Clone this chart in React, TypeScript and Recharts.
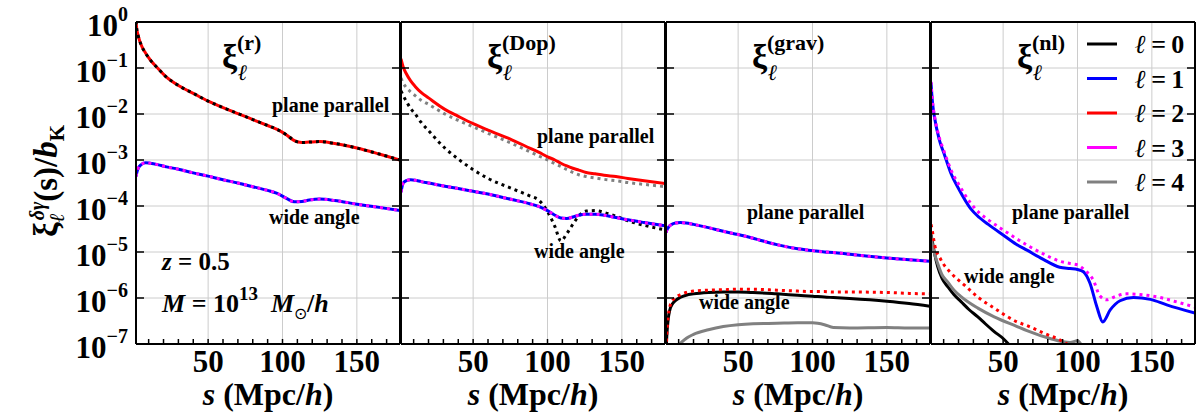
import React from 'react';
import { LineChart, Line, XAxis, YAxis, ReferenceLine } from 'recharts';

const FONT = '"Liberation Serif", "Times New Roman", serif';
const BLACK = '#000000';
const BLUE = '#0000ff';
const RED = '#ff0000';
const MAGENTA = '#ff00ff';
const GRAY = '#808080';

// axes
const X_DOMAIN = [1.5, 179];
const Y_DOMAIN = [1e-7, 1];
const xMinor = [10, 20, 30, 40, 50, 60, 70, 80, 90, 100, 110, 120, 130, 140, 150, 160, 170];
const xMajor = [50, 100, 150];
const yDecades = [1e-7, 1e-6, 1e-5, 1e-4, 1e-3, 1e-2, 1e-1, 1];
const yGrid = [1e-6, 1e-5, 1e-4, 1e-3, 1e-2, 1e-1];
const panelTitles = ['r', 'Dop', 'grav', 'nl'];
const legendEll = ['0', '1', '2', '3', '4'];
const legendColors = [BLACK, BLUE, RED, MAGENTA, GRAY];

// all series values are log10(xi / b_K)
// panel 1: xi^(r)
const rS = [1.5, 2, 3, 5, 8, 11, 16, 22, 30, 40, 50, 60, 70, 80, 90, 96, 103, 108, 113, 118, 125, 135, 150, 165, 179];
const rEll2 = [0.02, -0.15, -0.3, -0.5, -0.68, -0.82, -1.0, -1.2, -1.38, -1.55, -1.72, -1.86, -1.99, -2.12, -2.25, -2.33, -2.46, -2.58, -2.62, -2.61, -2.6, -2.64, -2.74, -2.87, -3.0];
const rEll0 = [0.02, -0.15, -0.3, -0.5, -0.68, -0.82, -1.0, -1.2, -1.38, -1.55, -1.72, -1.86, -1.99, -2.12, -2.25, -2.33, -2.46, -2.58, -2.62, -2.61, -2.6, -2.64, -2.74, -2.87, -3.0];
const rEll1 = [-3.36, -3.28, -3.18, -3.1, -3.06, -3.07, -3.1, -3.15, -3.2, -3.28, -3.35, -3.43, -3.5, -3.58, -3.66, -3.72, -3.84, -3.91, -3.9, -3.87, -3.85, -3.88, -3.96, -4.03, -4.1];
const rEll3 = [-3.36, -3.28, -3.18, -3.1, -3.06, -3.07, -3.1, -3.15, -3.2, -3.28, -3.35, -3.43, -3.5, -3.58, -3.66, -3.72, -3.84, -3.91, -3.9, -3.87, -3.85, -3.88, -3.96, -4.03, -4.1];

// panel 2: xi^(Dop)
const dopS = [1.5, 3, 5, 8, 11, 15, 20, 31, 40, 50, 60, 76, 88, 94, 100, 105, 109, 113, 117, 121, 126, 132, 138, 146, 154, 165, 179];
const dopEll2 = [-0.8, -0.98, -1.12, -1.28, -1.4, -1.53, -1.65, -1.9, -2.05, -2.21, -2.35, -2.56, -2.74, -2.83, -2.93, -3.0, -3.07, -3.13, -3.18, -3.22, -3.27, -3.3, -3.33, -3.36, -3.4, -3.45, -3.51];
const dopEll4 = [-1.22, -1.33, -1.42, -1.52, -1.6, -1.7, -1.79, -2.0, -2.14, -2.28, -2.42, -2.64, -2.82, -2.91, -3.0, -3.08, -3.14, -3.21, -3.27, -3.32, -3.36, -3.39, -3.42, -3.45, -3.49, -3.53, -3.58];
const dopEll0 = [-1.5, -1.6, -1.72, -1.88, -2.0, -2.18, -2.36, -2.74, -2.98, -3.21, -3.4, -3.62, -3.78, -3.87, -4.12, -4.45, -4.76, -4.6, -4.4, -4.22, -4.11, -4.1, -4.14, -4.22, -4.32, -4.42, -4.52];
const dopEll1 = [-3.7, -3.5, -3.45, -3.43, -3.44, -3.47, -3.5, -3.57, -3.62, -3.68, -3.74, -3.86, -3.95, -4.01, -4.1, -4.2, -4.26, -4.27, -4.24, -4.2, -4.18, -4.18, -4.2, -4.25, -4.3, -4.36, -4.43];
const dopEll3 = [-3.7, -3.5, -3.45, -3.43, -3.44, -3.47, -3.5, -3.57, -3.62, -3.68, -3.74, -3.86, -3.95, -4.01, -4.1, -4.2, -4.26, -4.27, -4.24, -4.2, -4.18, -4.18, -4.2, -4.25, -4.3, -4.36, -4.43];

// panel 3: xi^(grav)
const gravS = [1.5, 2, 3, 4, 6, 8, 11, 15, 20, 30, 40, 50, 60, 76, 90, 100, 108, 114, 125, 150, 165, 179];
const gravEll1 = [-4.58, -4.53, -4.47, -4.43, -4.39, -4.37, -4.36, -4.37, -4.4, -4.47, -4.55, -4.62, -4.7, -4.84, -4.93, -4.97, -5.0, -5.01, -5.05, -5.13, -5.17, -5.2];
const gravEll3 = [-4.58, -4.53, -4.47, -4.43, -4.39, -4.37, -4.36, -4.37, -4.4, -4.47, -4.55, -4.62, -4.7, -4.84, -4.93, -4.97, -5.0, -5.01, -5.05, -5.13, -5.17, -5.2];
const gravEll0 = [-7.2, -6.85, -6.45, -6.27, -6.12, -6.05, -5.99, -5.94, -5.91, -5.88, -5.87, -5.87, -5.88, -5.91, -5.94, -5.96, -5.98, -5.99, -6.01, -6.07, -6.12, -6.18];
const gravEll2 = [-7.1, -6.8, -6.4, -6.2, -6.05, -5.98, -5.93, -5.88, -5.85, -5.83, -5.82, -5.81, -5.81, -5.83, -5.85, -5.86, -5.86, -5.87, -5.87, -5.88, -5.9, -5.91];
const gravS4 = [8, 11, 15, 20, 30, 40, 50, 60, 76, 90, 100, 108, 114, 125, 150, 165, 179];
const gravEll4 = [-7.2, -7.0, -6.88, -6.79, -6.69, -6.62, -6.58, -6.56, -6.55, -6.54, -6.54, -6.58, -6.64, -6.65, -6.64, -6.65, -6.65];

// panel 4: xi^(nl)
const nlS1 = [1.5, 2.5, 4, 7, 10.7, 15, 20, 28, 34, 40, 50, 58.8, 66, 77, 88, 95, 100, 104, 108.4, 113, 117, 122, 128.6, 137.6, 149, 160, 179];
const nlEll1 = [-1.32, -1.75, -2.1, -2.55, -2.9, -3.3, -3.62, -4.05, -4.25, -4.4, -4.63, -4.83, -4.96, -5.16, -5.33, -5.36, -5.38, -5.43, -5.68, -6.19, -6.52, -6.26, -6.06, -5.99, -6.03, -6.15, -6.33];
const nlS3 = [1.5, 2.5, 4, 7, 10.7, 15, 20, 28, 34, 40, 50, 66, 77, 88, 95, 100, 105, 110.6, 115, 119.6, 126, 133, 144, 155.6, 165, 179];
const nlEll3 = [-1.3, -1.72, -2.07, -2.5, -2.85, -3.22, -3.52, -3.93, -4.15, -4.3, -4.52, -4.85, -5.04, -5.2, -5.25, -5.28, -5.4, -5.61, -5.95, -6.04, -5.96, -5.91, -5.93, -5.99, -6.07, -6.2];
const nlS0 = [1.5, 2, 4, 6, 9, 12.7, 17, 21.7, 27, 33, 38, 44, 50, 55];
const nlEll0 = [-4.62, -4.7, -5.05, -5.32, -5.58, -5.75, -5.93, -6.08, -6.25, -6.41, -6.56, -6.73, -6.88, -7.05];
const nlS4 = [1.5, 2, 4, 6, 9, 12.7, 17, 21.7, 27, 33, 44, 59.4, 66, 81.5, 95, 100, 104];
const nlEll4 = [-4.64, -4.76, -5.05, -5.25, -5.5, -5.65, -5.83, -5.97, -6.1, -6.22, -6.41, -6.62, -6.71, -6.88, -6.97, -6.93, -7.1];
const nlS2 = [1.5, 2, 4, 8.2, 15, 24, 33, 44, 59.4, 66, 77, 88, 94];
const nlEll2 = [-4.4, -4.47, -4.85, -5.17, -5.46, -5.72, -5.98, -6.22, -6.52, -6.6, -6.76, -6.91, -7.02];

const pts = (s: number[], lg: number[]) => s.map((x, i) => ({ s: x, v: Math.pow(10, lg[i]) }));

type Series = { data: { s: number; v: number }[]; color: string; dotted?: boolean };

const panels: Series[][] = [
  [
    { data: pts(rS, rEll2), color: RED },
    { data: pts(rS, rEll0), color: BLACK, dotted: true },
    { data: pts(rS, rEll1), color: BLUE },
    { data: pts(rS, rEll3), color: MAGENTA, dotted: true },
  ],
  [
    { data: pts(dopS, dopEll2), color: RED },
    { data: pts(dopS, dopEll4), color: GRAY, dotted: true },
    { data: pts(dopS, dopEll0), color: BLACK, dotted: true },
    { data: pts(dopS, dopEll1), color: BLUE },
    { data: pts(dopS, dopEll3), color: MAGENTA, dotted: true },
  ],
  [
    { data: pts(gravS, gravEll1), color: BLUE },
    { data: pts(gravS, gravEll3), color: MAGENTA, dotted: true },
    { data: pts(gravS, gravEll0), color: BLACK },
    { data: pts(gravS, gravEll2), color: RED, dotted: true },
    { data: pts(gravS4, gravEll4), color: GRAY },
  ],
  [
    { data: pts(nlS1, nlEll1), color: BLUE },
    { data: pts(nlS3, nlEll3), color: MAGENTA, dotted: true },
    { data: pts(nlS0, nlEll0), color: BLACK },
    { data: pts(nlS4, nlEll4), color: GRAY },
    { data: pts(nlS2, nlEll2), color: RED, dotted: true },
  ],
];

const PANEL_LEFT = [136, 401, 666, 931];
const PANEL_W = 264;
const FRAME = { stroke: '#000', strokeWidth: 2 };
const GRID = '#cccccc';

const BottomTick = (props: any) => {
  const { x, y, payload } = props;
  return (
    <g>
      <line x1={x} x2={x} y1={y} y2={y - 5} stroke="#000" strokeWidth={1.5} />
      {payload.value % 50 === 0 && (
        <text x={x} y={y + 28} textAnchor="middle" fontFamily={FONT} fontWeight="bold" fontSize={31} fill="#000">
          {payload.value}
        </text>
      )}
    </g>
  );
};

const LeftTick = (props: any) => {
  const { x, y, payload, showLabel } = props;
  const exp = Math.round(Math.log10(payload.value));
  return (
    <g>
      <line x1={x} x2={x + 8} y1={y} y2={y} stroke="#000" strokeWidth={1.5} />
      {showLabel && (
        <text x={x - 8} y={y + 14} textAnchor="end" fontFamily={FONT} fontWeight="bold" fill="#000">
          <tspan fontSize={31}>10</tspan>
          <tspan fontSize={20} dy={-15}>{exp === 0 ? '0' : '\u2212' + Math.abs(exp)}</tspan>
        </text>
      )}
    </g>
  );
};

const RightTick = (props: any) => {
  const { x, y } = props;
  return <line x1={x} x2={x - 8} y1={y} y2={y} stroke="#000" strokeWidth={1.5} />;
};

function Panel({ idx }: { idx: number }) {
  const first = idx === 0;
  const left = PANEL_LEFT[idx];
  const chartLeft = first ? 0 : left - 60;
  const width = left - chartLeft + PANEL_W + 20;
  return (
    <div style={{ position: 'absolute', left: chartLeft, top: 0 }}>
      <LineChart width={width} height={420} margin={{ top: 21, right: 19, bottom: 6, left: first ? 35 : 59 }}>
        {xMajor.map((v) => (
          <ReferenceLine key={'gx' + v} x={v} xAxisId="bottom" yAxisId="left" stroke={GRID} strokeWidth={1} />
        ))}
        {yGrid.map((v) => (
          <ReferenceLine key={'gy' + v} y={v} xAxisId="bottom" yAxisId="left" stroke={GRID} strokeWidth={1} />
        ))}
        {panels[idx].map((ser, i) => (
          <Line
            key={i}
            xAxisId="bottom"
            yAxisId="left"
            data={ser.data}
            dataKey="v"
            type="monotone"
            stroke={ser.color}
            strokeWidth={3}
            strokeDasharray={ser.dotted ? '3 4' : undefined}
            dot={false}
            activeDot={false}
            isAnimationActive={false}
          />
        ))}
        <XAxis
          xAxisId="bottom"
          type="number"
          dataKey="s"
          domain={X_DOMAIN}
          allowDataOverflow
          ticks={xMinor}
          interval={0}
          height={70}
          tickSize={0}
          tickMargin={0}
          tickLine={false}
          axisLine={FRAME}
          tick={(p: any) => <BottomTick {...p} />}
        />
        <XAxis
          xAxisId="top"
          orientation="top"
          type="number"
          dataKey="s"
          domain={X_DOMAIN}
          allowDataOverflow
          ticks={xMajor}
          height={1}
          tick={false}
          tickLine={false}
          axisLine={FRAME}
        />
        <YAxis
          yAxisId="left"
          type="number"
          scale="log"
          domain={Y_DOMAIN}
          allowDataOverflow
          ticks={yDecades}
          interval={0}
          width={first ? 101 : 1}
          tickSize={0}
          tickMargin={0}
          tickLine={false}
          axisLine={FRAME}
          tick={(p: any) => <LeftTick {...p} showLabel={first} />}
        />
        <YAxis
          yAxisId="right"
          orientation="right"
          type="number"
          scale="log"
          domain={Y_DOMAIN}
          allowDataOverflow
          ticks={yDecades}
          interval={0}
          width={1}
          tickSize={0}
          tickMargin={0}
          tickLine={false}
          axisLine={FRAME}
          tick={(p: any) => <RightTick {...p} />}
        />
      </LineChart>
    </div>
  );
}

const annotations = [
  { pp: [272, 112], wa: [269, 224] },
  { pp: [537, 143], wa: [534, 258] },
  { pp: [747, 219], wa: [699, 309] },
  { pp: [1012, 219], wa: [964, 283] },
];

function Overlay() {
  return (
    <svg width={1203} height={420} style={{ position: 'absolute', left: 0, top: 0, pointerEvents: 'none' }} fontFamily={FONT} fontWeight="bold" fill="#000">
      {/* y label */}
      <text transform="rotate(-90 57 181)" x={57} y={181} textAnchor="middle" fontSize={33}>
        <tspan>ξ</tspan>
        <tspan fontSize={21} fontStyle="italic" dy={7}>ℓ</tspan>
        <tspan fontSize={20} fontStyle="italic" dx={-7} dy={-20}>δγ</tspan>
        <tspan dy={13}>(s)/</tspan>
        <tspan fontStyle="italic">b</tspan>
        <tspan fontSize={21} dy={7}>K</tspan>
      </text>
      {PANEL_LEFT.map((pl, i) => (
        <g key={i}>
          <text x={pl + 86} y={68} fontSize={34}>ξ</text>
          <text x={pl + 102} y={80} fontSize={22} fontStyle="italic">ℓ</text>
          <text x={pl + 101} y={50} fontSize={22}>({panelTitles[i]})</text>
          <text x={annotations[i].pp[0]} y={annotations[i].pp[1]} fontSize={20}>plane parallel</text>
          <text x={annotations[i].wa[0]} y={annotations[i].wa[1]} fontSize={20}>wide angle</text>
          <text x={pl + PANEL_W / 2} y={405} textAnchor="middle" fontSize={32}>
            <tspan fontStyle="italic">s</tspan> (Mpc/<tspan fontStyle="italic">h</tspan>)
          </text>
        </g>
      ))}
      <text x={162} y={270} fontSize={25}>
        <tspan fontStyle="italic">z</tspan> = 0.5
      </text>
      <text x={162} y={312} fontSize={26}>
        <tspan fontStyle="italic">M</tspan> = 10
        <tspan fontSize={19} dy={-12}>13</tspan>
        <tspan dy={12}>{'\u2002'}</tspan>
        <tspan fontStyle="italic">M</tspan>
        <tspan fontSize={16} fontWeight="normal" dy={7}>⊙</tspan>
        <tspan dy={-7}>/</tspan>
        <tspan fontStyle="italic">h</tspan>
      </text>
      {legendEll.map((l, i) => (
        <g key={l}>
          <line x1={1087} x2={1117} y1={44 + 34.5 * i} y2={44 + 34.5 * i} stroke={legendColors[i]} strokeWidth={3} />
          <text x={1135} y={44 + 34.5 * i + 9} fontSize={26}>
            <tspan fontStyle="italic">ℓ</tspan>{'\u2009=\u2009'}{l}
          </text>
        </g>
      ))}
    </svg>
  );
}

export default function App() {
  return (
    <div style={{ position: 'absolute', left: 0, top: 0, width: 1203, height: 420, background: '#fff', fontFamily: FONT }}>
      {[0, 1, 2, 3].map((i) => (
        <Panel key={i} idx={i} />
      ))}
      <Overlay />
    </div>
  );
}
